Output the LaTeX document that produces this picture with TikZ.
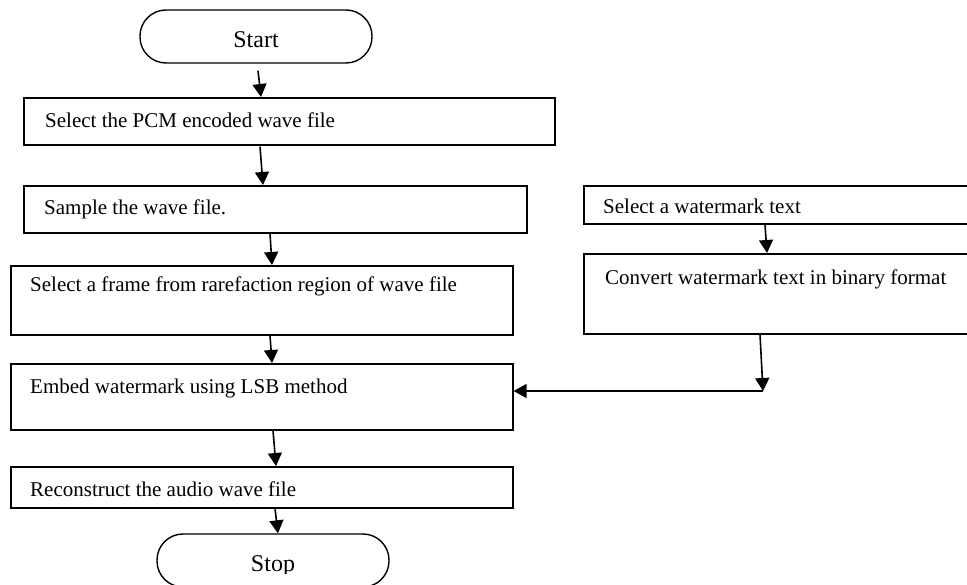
\documentclass[tikz,border=0pt]{standalone}
\usepackage{fontspec}
\setmainfont{Liberation Serif}
\usetikzlibrary{arrows.meta,calc}
\begin{document}
\begin{tikzpicture}[x=1pt,y=-1pt,
  box/.style={draw,line width=1.6pt,rectangle,anchor=north west,inner sep=0pt},
  term/.style={draw,line width=1.4pt,rectangle,rounded corners=26pt,inner sep=0pt,minimum width=232pt,minimum height=53pt},
  txt/.style={anchor=base west,inner sep=0pt,font=\fontsize{21}{25}\selectfont},
  ttxt/.style={anchor=base,inner sep=0pt,font=\fontsize{24}{28}\selectfont},
  arr/.style={line width=1.6pt,-{Triangle[length=13pt,width=14pt]}},
]
\useasboundingbox (0,0) rectangle (967,585);
\clip (0,0) rectangle (967,585);

% terminals
\node[term] (start) at (256,36.5) {};
\node[ttxt] (tstart) at (256,48) {Start};
\node[term] (stop) at (273,560.5) {};
\begin{scope}
  \clip (157,535) rectangle (389,573);
  \node[ttxt] (tstop) at (273,571) {Stop};
\end{scope}

% left column
\node[box,minimum width=531pt,minimum height=47pt] (b1) at (23,97) {};
\node[txt] (t1) at (45,128) {Select the PCM encoded wave file};
\node[box,minimum width=503pt,minimum height=47pt] (b2) at (23,185) {};
\node[txt] (t2) at (44,215) {Sample the wave file.};
\node[box,minimum width=502pt,minimum height=69pt] (b3) at (10,265) {};
\node[txt] (t3) at (30,292) {Select a frame from rarefaction region of wave file};
\node[box,minimum width=502pt,minimum height=66pt] (b4) at (10,363) {};
\node[txt] (t4) at (30,394) {Embed watermark using LSB method};
\node[box,minimum width=502pt,minimum height=41pt] (b5) at (10,466) {};
\node[txt] (t5) at (30,496) {Reconstruct the audio wave file};

% right column
\node[box,minimum width=400pt,minimum height=38pt] (b6) at (583,185) {};
\begin{scope}
  \clip (585,187) rectangle (967,213);
  \node[txt] (t6) at (603,214) {Select a watermark text};
\end{scope}
\node[box,minimum width=400pt,minimum height=80pt] (b7) at (583,253) {};
\node[txt] (t7) at (605,285) {Convert watermark text in binary format};

% connectors
\draw[arr] ($(start.south)+(2,7)$) -- ($(b1.north west)+(238,0)$);
\draw[arr] ($(b1.south west)+(237,1)$) -- ($(b2.north west)+(240,0)$);
\draw[arr] ($(b2.south west)+(247,0)$) -- ($(b3.north west)+(262,0)$);
\draw[arr] ($(b3.south west)+(260,0)$) -- ($(b4.north west)+(262,0)$);
\draw[arr] ($(b4.south west)+(263,0)$) -- ($(b5.north west)+(266,0)$);
\draw[arr] ($(b5.south west)+(265,0)$) -- ($(stop.north)+(5,0)$);
\draw[arr] ($(b6.south west)+(182,0)$) -- ($(b7.north west)+(184,0)$);
\coordinate (c) at (763,391);
\draw[arr] ($(b7.south west)+(177,0)$) -- (c);
\draw[arr] (c) -- (c -| b4.east);
\end{tikzpicture}
\end{document}
